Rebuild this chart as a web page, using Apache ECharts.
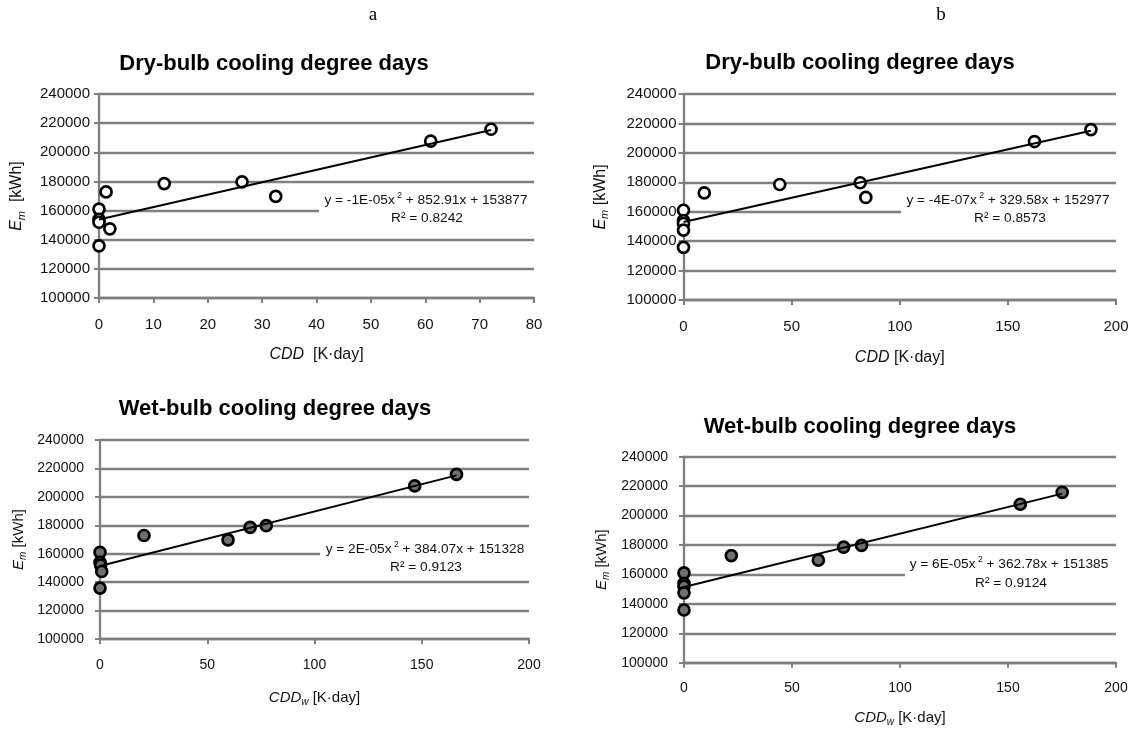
<!DOCTYPE html>
<html lang="en">
<head>
<meta charset="UTF-8">
<title>Monthly energy vs cooling degree days</title>
<style>html,body{margin:0;padding:0;background:#fff;}</style>
</head>
<body>
<div id="main" style="width:1131px;height:730px;"></div>
<script src="https://cdn.jsdelivr.net/npm/echarts@6/dist/echarts.min.js"></script>
<script>
// monthly energy E_m [kWh], same months in all four panels
var energy = [161000, 154000, 152000, 147500, 135800, 172800, 178500, 179700, 169700, 207700, 215800];

// degree days of those months
var cddDryA = [0, 0, 0, 2.0, 0, 1.3, 12.0, 26.3, 32.5, 61.0, 72.1];
var cddDryB = [0, 0, 0, 0, 0, 9.6, 44.5, 81.7, 84.3, 162.3, 188.4];
var cddWetA = [0, 0, 0.3, 0.8, 0, 20.5, 70.0, 77.5, 59.7, 146.7, 166.2];
var cddWetB = [0, 0, 0, 0, 0, 21.9, 73.9, 82.2, 62.2, 155.7, 175.1];

// trendline ends as drawn
var trendDryA = [[0, 153900], [72.1, 215300]];
var trendDryB = [[0, 153000], [188.4, 215000]];
var trendWetA = [[0, 151300], [166.2, 215100]];
var trendWetB = [[0, 151400], [175.1, 214900]];

// fit labels: x^2 coef, x coef, const, R^2
var eqDryA = ['-1E-05', '852.91', '153877', '0.8242'];
var eqDryB = ['-4E-07', '329.58', '152977', '0.8573'];
var eqWetA = ['2E-05', '384.07', '151328', '0.9123'];
var eqWetB = ['6E-05', '362.78', '151385', '0.9124'];

// axis ranges: min, max, step
var yRange = [100000, 240000, 20000];
var xRangeA = [0, 80, 10];
var xRange = [0, 200, 50];

var FONT = 'Liberation Sans';
var TXT = '#111111';
var GRAY = '#7f7f7f';

var panels = [
    {title: 'Dry-bulb cooling degree days', x: cddDryA, trend: trendDryA, eq: eqDryA, xr: xRangeA, fill: '#ffffff', wet: false, gap: '  ',
     grid: {left: 99, top: 94, width: 435, height: 204}, fs: 15, yMargin: 9, xMargin: 19, xNameGap: 47, yNameGap: 72,
     titlePos: [274, 64], eqPos: [426, 200], r2Pos: [427, 218], mask: [319, 207.5, 218, 6]},
    {title: 'Dry-bulb cooling degree days', x: cddDryB, trend: trendDryB, eq: eqDryB, xr: xRange, fill: '#ffffff', wet: false, gap: ' ',
     grid: {left: 683.5, top: 94, width: 432.5, height: 206}, fs: 15, yMargin: 7, xMargin: 19, xNameGap: 48, yNameGap: 73,
     titlePos: [860, 63], eqPos: [1008, 200], r2Pos: [1010, 218], mask: [901, 208.5, 218, 6]},
    {title: 'Wet-bulb cooling degree days', x: cddWetA, trend: trendWetA, eq: eqWetA, xr: xRange, fill: '#707070', wet: true, gap: ' ',
     grid: {left: 100, top: 440, width: 429, height: 199}, fs: 14, yMargin: 16, xMargin: 19, xNameGap: 49, yNameGap: 72,
     titlePos: [275, 409], eqPos: [425, 549], r2Pos: [426, 567.5], mask: [320, 550.5, 212, 6]},
    {title: 'Wet-bulb cooling degree days', x: cddWetB, trend: trendWetB, eq: eqWetB, xr: xRange, fill: '#707070', wet: true, gap: ' ',
     grid: {left: 684, top: 456.7, width: 432, height: 206}, fs: 14, yMargin: 16, xMargin: 18, xNameGap: 46, yNameGap: 73,
     titlePos: [860, 426.7], eqPos: [1009, 564], r2Pos: [1011, 583], mask: [905, 571.2, 213, 6]}
];

function nameRich(fs) {
    return {
        i: {fontStyle: 'italic', fontWeight: 'normal', fontSize: fs, lineHeight: fs + 4, fontFamily: FONT, color: TXT},
        sub: {fontStyle: 'italic', fontWeight: 'normal', fontSize: Math.round(fs * 0.68), lineHeight: Math.round(fs * 0.68), verticalAlign: 'bottom', fontFamily: FONT, color: TXT},
        n: {fontWeight: 'normal', fontSize: fs, lineHeight: fs + 4, fontFamily: FONT, color: TXT}
    };
}

function eqRich(fs) {
    return {
        t: {fontWeight: 'normal', fontSize: fs, lineHeight: fs + 4, fontFamily: FONT, color: TXT},
        s: {fontWeight: 'normal', fontSize: fs - 5, lineHeight: fs - 5, verticalAlign: 'top', fontFamily: FONT, color: TXT}
    };
}

// centred text placed by its middle point
function label(text, pos, textStyle) {
    return {text: text, left: pos[0], top: pos[1], textAlign: 'center', textVerticalAlign: 'middle', padding: 0, textStyle: textStyle};
}

var option = {
    backgroundColor: '#ffffff',
    animation: false,
    title: [
        label('a', [373, 15], {fontFamily: 'Liberation Serif', fontSize: 19, fontWeight: 'normal', color: '#000'}),
        label('b', [941, 15], {fontFamily: 'Liberation Serif', fontSize: 19, fontWeight: 'normal', color: '#000'})
    ],
    grid: [],
    xAxis: [],
    yAxis: [],
    series: [],
    graphic: []
};

panels.forEach(function (p, i) {
    var nfs = p.fs + 1;
    option.title.push(label(p.title, p.titlePos, {fontFamily: FONT, fontSize: 22, fontWeight: 'bold', color: '#000'}));
    option.title.push(label('{t|y = ' + p.eq[0] + 'x}{s| 2}{t| + ' + p.eq[1] + 'x + ' + p.eq[2] + '}', p.eqPos,
        {fontWeight: 'normal', rich: eqRich(13.7)}));
    option.title.push(label('R² = ' + p.eq[3], p.r2Pos, {fontFamily: FONT, fontSize: 13.7, fontWeight: 'normal', color: TXT}));

    option.grid.push({left: p.grid.left, top: p.grid.top, width: p.grid.width, height: p.grid.height, outerBoundsMode: 'none'});

    option.xAxis.push({
        type: 'value', gridIndex: i, min: p.xr[0], max: p.xr[1], interval: p.xr[2],
        name: p.wet ? '{i|CDD}{sub|w}{n| [K·day]}' : '{i|CDD}{n|' + p.gap + '[K·day]}',
        nameLocation: 'middle', nameGap: p.xNameGap,
        nameTextStyle: {rich: nameRich(nfs)},
        axisLine: {show: true, onZero: false, lineStyle: {color: GRAY, width: 2.3}},
        axisTick: {show: true, length: 5, lineStyle: {color: GRAY, width: 2}},
        axisLabel: {margin: p.xMargin, fontSize: p.fs, fontFamily: FONT, color: TXT},
        splitLine: {show: false}
    });

    option.yAxis.push({
        type: 'value', gridIndex: i, min: yRange[0], max: yRange[1], interval: yRange[2],
        name: '{i|E}{sub|m}{n|' + p.gap + '[kWh]}',
        nameLocation: 'middle', nameGap: p.yNameGap,
        nameTextStyle: {rich: nameRich(nfs)},
        axisLine: {show: true, onZero: false, lineStyle: {color: GRAY, width: 2.3}},
        axisTick: {show: true, length: 5, lineStyle: {color: GRAY, width: 2}},
        axisLabel: {margin: p.yMargin, fontSize: p.fs, fontFamily: FONT, color: TXT,
            formatter: function (v) { return String(v); }},
        splitLine: {show: true, lineStyle: {color: GRAY, width: 2.3}}
    });

    option.series.push({
        type: 'scatter', xAxisIndex: i, yAxisIndex: i, z: 3,
        data: p.x.map(function (v, k) { return [v, energy[k]]; }),
        symbol: 'circle', symbolSize: 11,
        itemStyle: {color: p.fill, borderColor: '#000', borderWidth: 2.7, opacity: 1}
    });
    option.series.push({
        type: 'line', xAxisIndex: i, yAxisIndex: i, z: 4, silent: true,
        data: p.trend, symbol: 'none',
        lineStyle: {color: '#000', width: 2}
    });

    // the fit label sits on a white box that hides the 160000 grid line
    option.graphic.push({
        type: 'rect', z: 1, silent: true,
        shape: {x: p.mask[0], y: p.mask[1], width: p.mask[2], height: p.mask[3]},
        style: {fill: '#ffffff'}
    });
});

var myChart = echarts.init(document.getElementById('main'));
myChart.setOption(option);
</script>
</body>
</html>
